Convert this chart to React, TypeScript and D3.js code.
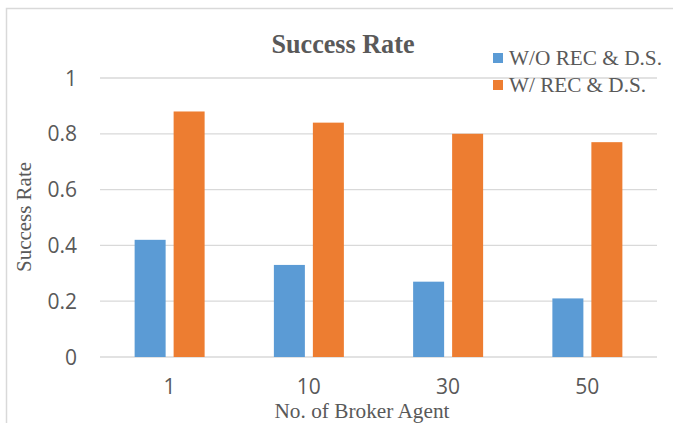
import React from "react";
import * as d3 from "d3";

const categories = ["1", "10", "30", "50"];
const seriesNames = ["W/O REC & D.S.", "W/ REC & D.S."];
const withoutRec = [0.42, 0.33, 0.27, 0.21];
const withRec = [0.88, 0.84, 0.8, 0.77];
const yTicks = [0, 0.2, 0.4, 0.6, 0.8, 1];
const colors = ["#5b9bd5", "#ed7d31"];

const W = 673;
const H = 423;

export default function App() {
  const x0 = d3.scaleBand<string>().domain(categories).range([100, 657]).padding(0);
  const x1 = d3
    .scaleBand<string>()
    .domain(seriesNames)
    .range([0, x0.bandwidth()])
    .paddingInner(0.205)
    .paddingOuter(0.888);
  const y = d3.scaleLinear().domain([0, 1]).range([357, 78]);
  const seriesValues = [withoutRec, withRec];
  const serif = "'Liberation Serif', 'Times New Roman', serif";
  const sans = "'Open Sans', 'Liberation Sans', sans-serif";
  const textColor = "#595959";

  return (
    <svg
      width={W}
      height={H}
      style={{ position: "absolute", left: 0, top: 0, background: "#fff" }}
    >
      <rect x={6.5} y={8.5} width={W + 20} height={H + 20} fill="#fff" stroke="#d9d9d9" strokeWidth={1.5} />
      {/* gridlines */}
      {yTicks.map((t) => (
        <line key={t} x1={100} x2={657} y1={y(t)} y2={y(t)} stroke="#d9d9d9" strokeWidth={1.3} />
      ))}
      {/* y tick labels */}
      {yTicks.map((t) => (
        <text key={t} x={77} y={y(t) + 7.5} textAnchor="end" fontFamily={sans} fontSize={21} fill={textColor}>
          {d3.format("~g")(t)}
        </text>
      ))}
      {/* bars */}
      {categories.map((c, i) => (
        <g key={c} transform={`translate(${x0(c)},0)`}>
          {seriesNames.map((s, j) => (
            <rect
              key={s}
              x={x1(s)}
              y={y(seriesValues[j][i])}
              width={x1.bandwidth()}
              height={y(0) - y(seriesValues[j][i])}
              fill={colors[j]}
            />
          ))}
        </g>
      ))}
      {/* x tick labels */}
      {categories.map((c) => (
        <text key={c} x={(x0(c) as number) + x0.bandwidth() / 2} y={394} textAnchor="middle" fontFamily={sans} fontSize={21} fill={textColor}>
          {c}
        </text>
      ))}
      {/* title */}
      <text x={343} y={53} textAnchor="middle" fontFamily={serif} fontWeight="bold" fontSize={27} fill={textColor} textLength={143} lengthAdjust="spacingAndGlyphs">
        Success Rate
      </text>
      {/* axis titles */}
      <text x={362} y={418} textAnchor="middle" fontFamily={serif} fontSize={21} fill={textColor} textLength={175} lengthAdjust="spacingAndGlyphs">
        No. of Broker Agent
      </text>
      <text transform="translate(31,217) rotate(-90)" textAnchor="middle" fontFamily={serif} fontSize={20} fill={textColor} textLength={110} lengthAdjust="spacingAndGlyphs">
        Success Rate
      </text>
      {/* legend */}
      {seriesNames.map((s, j) => (
        <g key={s} transform={`translate(493,${53 + j * 27})`}>
          <rect x={0} y={0} width={10} height={10} fill={colors[j]} />
          <text x={16} y={12} fontFamily={serif} fontSize={20} fill={textColor} textLength={j === 0 ? 153 : 137} lengthAdjust="spacingAndGlyphs">
            {s}
          </text>
        </g>
      ))}
    </svg>
  );
}
